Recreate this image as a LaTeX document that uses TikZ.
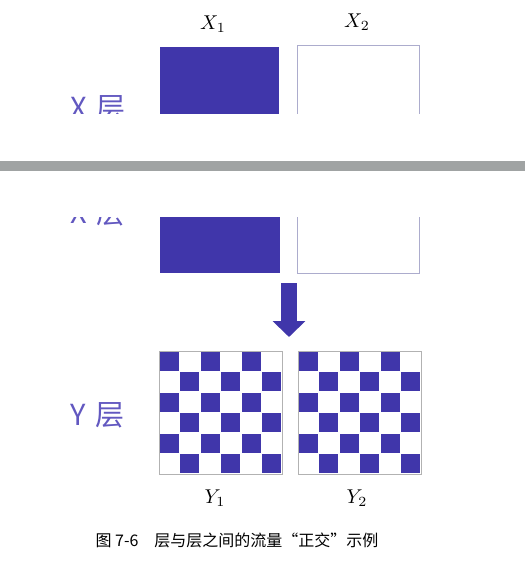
\documentclass[tikz,border=0pt]{standalone}
\usepackage{fontspec}
\newfontfamily\cjkfont{Noto Sans CJK SC}
\usepackage{xcolor}
\usetikzlibrary{arrows.meta}
\usetikzlibrary{positioning}

\definecolor{inkblue}{RGB}{64,54,170}
\definecolor{labelblue}{RGB}{98,88,192}
\definecolor{cutgray}{RGB}{160,163,163}
\definecolor{edgegray}{RGB}{172,172,205}

\begin{document}
\begin{tikzpicture}[
		x=0.5pt, y=-0.5pt,% one unit = one pixel of the scan, y going down
		XB/.style = {rectangle, inner sep=0pt, outer sep=0pt,
			minimum height=50pt},% X layer boxes
		full/.style = {XB, fill=inkblue},
		empty/.style = {XB, draw=edgegray, line width=0.5pt, fill=white},
		YB/.style = {rectangle, draw=gray!60, line width=0.4pt,
			inner sep=0pt, outer sep=0pt, minimum size=61.5pt, anchor=north west},
		cell/.style = {fill=inkblue},
		lyr/.style = {font=\cjkfont\fontsize{14.5}{15}\selectfont, text=labelblue,
			anchor=base west, inner sep=0pt},
		lbl/.style = {font=\fontsize{10}{12}\selectfont, inner sep=0pt},
		flow/.style = {draw=inkblue, line width=8pt,
			-{Triangle[width=16pt, length=8pt]}},
		]
		\useasboundingbox (0,0) rectangle (525,566);
		% upper copy of the X layer (cut below)
		\node[full, anchor=north west, minimum width=59.5pt] (x1up) at (160,47) {};
		\node[empty, anchor=north west, minimum width=61pt] (x2up) at (297,46) {};
		\node[lyr] (xlup) at (70,119) {X\hspace{5pt}层};
		% lower copy of the X layer (cut above)
		\node[full, anchor=south west, minimum width=60pt] (x1) at (160,273) {};
		\node[empty, anchor=south west, minimum width=61pt] (x2) at (297,273) {};
		\node[lyr] (xl) at (70,224) {X\hspace{5pt}层};
		% the cut in the scan
		\fill[white] (0,114) rectangle (525,217);
		\fill[cutgray] (0,161) rectangle (525,171);
		\node[lbl] (lx1) at (213,24) {$X_1$};
		\node[lbl] (lx2) at (357,22) {$X_2$};
		% Y layer
		\node[YB] (y1) at (159,351) {};
		\node[YB] (y2) at (298,351) {};
		\foreach \b in {y1,y2}
		\foreach \r in {0,...,5}
		\foreach \c in {0,...,5}
		{\pgfmathtruncatemacro{\p}{mod(\r+\c,2)}
			\ifnum\p=0
			\fill[cell] ([shift={(\c*20.5+0.8,\r*20.5+0.8)}]\b.north west) rectangle +(18.9,18.9);
			\fi}
		\node[lyr] (yl) at (70,425) {Y\hspace{5pt}层};
		\node[lbl] (ly1) at (215,498) {$Y_1$};
		\node[lbl] (ly2) at (357,498) {$Y_2$};
		% flow from X to Y
		\coordinate (ftop) at (289,283);
		\coordinate (fend) at (289,337);
		\draw[flow] (ftop) -- (fend);
		\node[font=\cjkfont\fontsize{8}{10}\selectfont, inner sep=0pt] (cap) at (237,540)
			{图 7-6\quad 层与层之间的流量“正交”示例};
	\end{tikzpicture}
\end{document}
